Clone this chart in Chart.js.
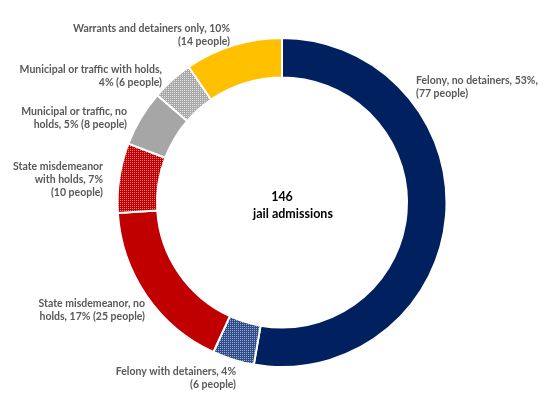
<!DOCTYPE html>
<html>
<head>
<meta charset="utf-8">
<script src="https://cdn.jsdelivr.net/npm/chart.js@4"></script>
<style>
  html, body { margin: 0; padding: 0; background: #fff; }
  #wrap { width: 560px; height: 410px; }
</style>
</head>
<body>
<div id="wrap"><canvas id="myChart" width="560" height="410"></canvas></div>
<script>
// categories, clockwise from 12 o'clock
const categories = [
    'Felony, no detainers',
    'Felony with detainers',
    'State misdemeanor, no holds',
    'State misdemeanor with holds',
    'Municipal or traffic, no holds',
    'Municipal or traffic with holds',
    'Warrants and detainers only'
];
const people = [77, 6, 25, 10, 8, 6, 14];
const labelLines = [
    ['Felony, no detainers, 53%,', '(77 people)'],
    ['Felony with detainers, 4%', '(6 people)'],
    ['State misdemeanor, no', 'holds, 17% (25 people)'],
    ['State misdemeanor', 'with holds, 7%', '(10 people)'],
    ['Municipal or traffic, no', 'holds, 5% (8 people)'],
    ['Municipal or traffic with holds,', '4% (6 people)'],
    ['Warrants and detainers only, 10%', '(14 people)']
];
const centerLines = ['146', 'jail admissions'];

// label placement (x, y of first line, alignment)
const labelPos = [
    { x: 416, y: 81, align: 'left' },
    { x: 236, y: 372, align: 'right' },
    { x: 145, y: 304, align: 'right' },
    { x: 103, y: 167, align: 'right' },
    { x: 127, y: 112, align: 'right' },
    { x: 162, y: 70, align: 'right' },
    { x: 230, y: 29, align: 'right' }
];

function makePattern(base, dot) {
    var c = document.createElement('canvas');
    c.width = 2; c.height = 2;
    var g = c.getContext('2d');
    g.fillStyle = base;
    g.fillRect(0, 0, 2, 2);
    g.fillStyle = dot;
    g.fillRect(0, 0, 1, 1);
    return g.createPattern(c, 'repeat');
}

const ctxEl = document.getElementById('myChart');
const colors = [
    '#002060',
    makePattern('#2f4c88', '#9aabcf'),
    '#c00000',
    makePattern('#c00000', '#ec8080'),
    '#a6a6a6',
    makePattern('#a8a8a8', '#e4e4e4'),
    '#ffc000'
];

const labelPlugin = {
    id: 'outerLabels',
    afterDraw: function(chart) {
        var ctx = chart.ctx;
        ctx.save();
        ctx.font = 'bold 10.5px Lato';
        ctx.fillStyle = '#595959';
        ctx.textBaseline = 'middle';
        labelLines.forEach(function(lines, i) {
            var p = labelPos[i];
            ctx.textAlign = p.align;
            lines.forEach(function(t, j) {
                ctx.fillText(t, p.x, p.y + j * 12.8);
            });
        });
        var arc = chart.getDatasetMeta(0).data[0];
        ctx.fillStyle = '#000';
        ctx.textAlign = 'center';
        ctx.font = 'bold 12.5px Lato';
        ctx.fillText(centerLines[0], arc.x, arc.y - 6);
        ctx.fillText(centerLines[1], arc.x + 11, arc.y + 11);
        ctx.restore();
    }
};

new Chart(ctxEl, {
    type: 'doughnut',
    data: {
        labels: categories,
        datasets: [{
            data: people,
            backgroundColor: colors,
            borderColor: '#ffffff',
            borderWidth: 2
        }]
    },
    options: {
        responsive: false,
        animation: false,
        cutout: '76%',
        layout: { padding: { top: 37, bottom: 42, left: 4, right: 0 } },
        plugins: {
            legend: { display: false },
            tooltip: { enabled: false }
        }
    },
    plugins: [labelPlugin]
});
</script>
</body>
</html>
